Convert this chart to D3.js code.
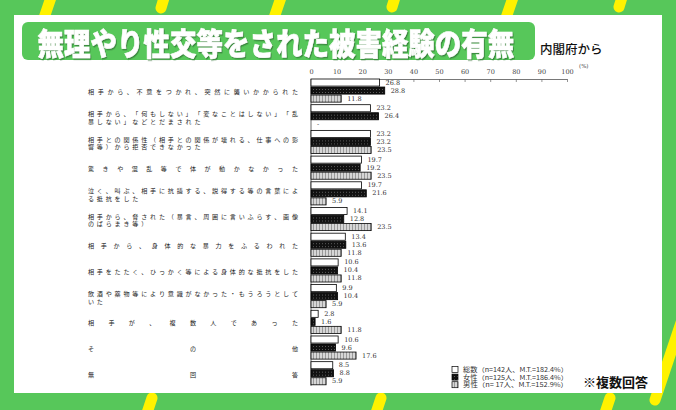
<!DOCTYPE html>
<html><head><meta charset="utf-8">
<script src="https://cdn.jsdelivr.net/npm/d3@7"></script>
<style>html,body{margin:0;padding:0;background:#fff;}svg{display:block;}</style>
</head><body>
<script>
// ---- data ----
const categories = [
  ["相手から、不意をつかれ、突然に襲いかかられた"],
  ["相手から、「何もしない」「変なことはしない」「乱", "暴しない」などとだまされた"],
  ["相手との関係性（相手との関係が壊れる、仕事への影", "響等）から拒否できなかった"],
  ["驚きや混乱等で体が動かなかった"],
  ["泣く、叫ぶ、相手に抗議する、説得する等の言葉によ", "る抵抗をした"],
  ["相手から、脅された（暴言、周囲に言いふらす、画像", "のばらまき等）"],
  ["相手から、身体的な暴力をふるわれた"],
  ["相手をたたく、ひっかく等による身体的な抵抗をした"],
  ["飲酒や薬物等により意識がなかった・もうろうとして", "いた"],
  ["相手が、複数人であった"],
  ["その他"],
  ["無回答"]
];
const total  = [26.8, 23.2, 23.2, 19.7, 19.7, 14.1, 13.4, 10.6, 9.9, 2.8, 10.6, 8.5];
const female = [28.8, 26.4, 23.2, 19.2, 21.6, 12.8, 13.6, 10.4, 10.4, 1.6, 9.6, 8.8];
const male   = [11.8, 0, 23.5, 23.5, 5.9, 23.5, 11.8, 11.8, 5.9, 11.8, 17.6, 5.9];
const seriesNames = ["総数", "女性", "男性"];
const legendLabels = ["総数（n=142人、M.T.=182.4%）", "女性（n=125人、M.T.=186.4%）", "男性（n= 17人、M.T.=152.9%）"];
const tickValues = [0, 10, 20, 30, 40, 50, 60, 70, 80, 90, 100];
const title = "無理やり性交等をされた被害経験の有無";
const source = "内閣府から";
const note = "※複数回答";

// ---- drawing ----
const W = 676, H = 410;
const svg = d3.select("body").append("svg").attr("width", W).attr("height", H);
const defs = svg.append("defs");

const pf = defs.append("pattern").attr("id", "pFemale").attr("patternUnits", "userSpaceOnUse").attr("width", 3).attr("height", 3);
pf.append("rect").attr("width", 3).attr("height", 3).attr("fill", "#111");
pf.append("rect").attr("x", 1).attr("y", 1).attr("width", 1).attr("height", 1).attr("fill", "#5a5a5a");
const pm = defs.append("pattern").attr("id", "pMale").attr("patternUnits", "userSpaceOnUse").attr("width", 3).attr("height", 3);
pm.append("rect").attr("width", 3).attr("height", 3).attr("fill", "#d6d6d6");
pm.append("rect").attr("x", 1).attr("width", 1).attr("height", 3).attr("fill", "#999");
const fills = ["#ffffff", "url(#pFemale)", "url(#pMale)"];
const sh = defs.append("filter").attr("id", "tshadow").attr("x", "-5%").attr("y", "-20%").attr("width", "110%").attr("height", "140%");
sh.append("feDropShadow").attr("dx", 1).attr("dy", 1.2).attr("stdDeviation", 0.6).attr("flood-color", "#2e6f30").attr("flood-opacity", 0.7);

// background
const green = "#57c75a", yellow = "#fff200";
svg.append("rect").attr("width", W).attr("height", H).attr("fill", green);
const stripes = svg.append("g").attr("stroke", yellow).attr("stroke-width", 11).attr("stroke-linecap", "round");
[[33, 50, 57, -20], [161, 8, 170, -22], [263, 50, 287, -20], [392, 7, 401, -22], [495, 50, 519, -20], [619, 7, 628, -22],
 [152, 398, 140, 434], [381, 398, 369, 434], [610, 398, 598, 434], [692, 290, 655, 400]]
  .forEach(s => stripes.append("line").attr("x1", s[0]).attr("y1", s[1]).attr("x2", s[2]).attr("y2", s[3]));
svg.append("rect").attr("x", 14).attr("y", 15).attr("width", 648).attr("height", 378).attr("fill", "#fff");

// title
svg.append("rect").attr("x", 22).attr("y", 22).attr("width", 513).attr("height", 38).attr("rx", 6).attr("fill", green);
svg.append("text").attr("transform", "translate(37.5,42) scale(1,1.15)").attr("dominant-baseline", "central")
  .attr("font-family", "'Noto Sans CJK JP'").attr("font-weight", 900).attr("font-size", 26.5)
  .attr("fill", "#fff").attr("stroke", "#fff").attr("stroke-width", 0.5).attr("filter", "url(#tshadow)")
  .text(title);
svg.append("text").attr("x", 540).attr("y", 48).attr("dominant-baseline", "central")
  .attr("font-family", "'Noto Sans CJK JP'").attr("font-weight", 500).attr("font-size", 12.5).attr("fill", "#111")
  .text(source);

// scales
const x = d3.scaleLinear().domain([0, 100]).range([311, 567]);
const y = d3.scaleBand().domain(d3.range(categories.length)).range([79, 79 + 25.7 * 12 - 2.6]).paddingInner(0.1).paddingOuter(0);
const ys = d3.scaleBand().domain(d3.range(3)).range([0, y.bandwidth()]).paddingInner(0.12);
const series = [total, female, male];

// axis
const axis = svg.append("g").attr("transform", "translate(0,79)")
  .call(d3.axisTop(x).tickValues(tickValues).tickSizeInner(-3).tickSizeOuter(0).tickPadding(5));
axis.select(".domain").attr("stroke", "#555").attr("stroke-width", 0.8);
axis.selectAll(".tick line").attr("stroke", "#666").attr("stroke-width", 0.7);
axis.selectAll(".tick text").attr("font-family", "'DejaVu Serif'").attr("font-size", 6.5).attr("fill", "#444");
svg.append("text").attr("x", 579).attr("y", 68).attr("font-family", "'DejaVu Serif'").attr("font-size", 5.5).attr("fill", "#444").text("(%)");
svg.append("line").attr("x1", 311).attr("x2", 311).attr("y1", 79).attr("y2", y(11) + y.bandwidth() + 1).attr("stroke", "#444").attr("stroke-width", 0.8);

// bars
const groups = svg.append("g").selectAll("g").data(categories).join("g")
  .attr("transform", (d, i) => `translate(0,${y(i)})`);
series.forEach((vals, s) => {
  groups.append("rect")
    .attr("x", x(0)).attr("y", ys(s))
    .attr("width", (d, i) => x(vals[i]) - x(0)).attr("height", ys.bandwidth())
    .attr("fill", fills[s]).attr("stroke", (d, i) => vals[i] > 0 ? "#000" : "none").attr("stroke-width", 0.8);
  groups.append("text")
    .attr("x", (d, i) => x(vals[i]) + 6).attr("y", ys(s) + ys.bandwidth() / 2)
    .attr("dominant-baseline", "central")
    .attr("font-family", "'DejaVu Serif'").attr("font-size", 6.5).attr("fill", "#333")
    .text((d, i) => vals[i] > 0 ? d3.format(".1f")(vals[i]) : "-");
});

// category labels (justified across the label column)
const labL = 88, labR = 298, fs = 6.1, lineGap = 7.8;
categories.forEach((lines, i) => {
  const n = [...lines[0]].length;
  const pitch = n > 1 ? (labR - labL - fs) / (n - 1) : 0;
  const cy = y(i) + y.bandwidth() / 2 + 1;
  lines.forEach((line, k) => {
    const chars = [...line];
    const yy = cy + (k - (lines.length - 1) / 2) * lineGap;
    svg.append("text")
      .attr("x", chars.map((c, j) => (labL + j * pitch).toFixed(2)).join(" "))
      .attr("y", yy).attr("dominant-baseline", "central")
      .attr("font-family", "'Noto Sans CJK JP'").attr("font-size", fs).attr("fill", "#222")
      .text(line);
  });
});

// legend
const lg = svg.append("g");
legendLabels.forEach((t, s) => {
  const cy = 369.5 + s * 7.6;
  lg.append("rect").attr("x", 452).attr("y", cy - 3).attr("width", 6).attr("height", 6)
    .attr("fill", fills[s]).attr("stroke", "#000").attr("stroke-width", 0.7);
  lg.append("text").attr("x", 463).attr("y", cy).attr("dominant-baseline", "central")
    .attr("font-family", "'Noto Sans CJK JP'").attr("font-size", 6.4).attr("fill", "#333")
    .attr("textLength", 105).attr("lengthAdjust", "spacingAndGlyphs").text(t);
});
svg.append("text").attr("x", 583).attr("y", 381).attr("dominant-baseline", "central")
  .attr("font-family", "'Noto Sans CJK JP'").attr("font-weight", 700).attr("font-size", 13).attr("fill", "#111")
  .text(note);
</script>
</body></html>
